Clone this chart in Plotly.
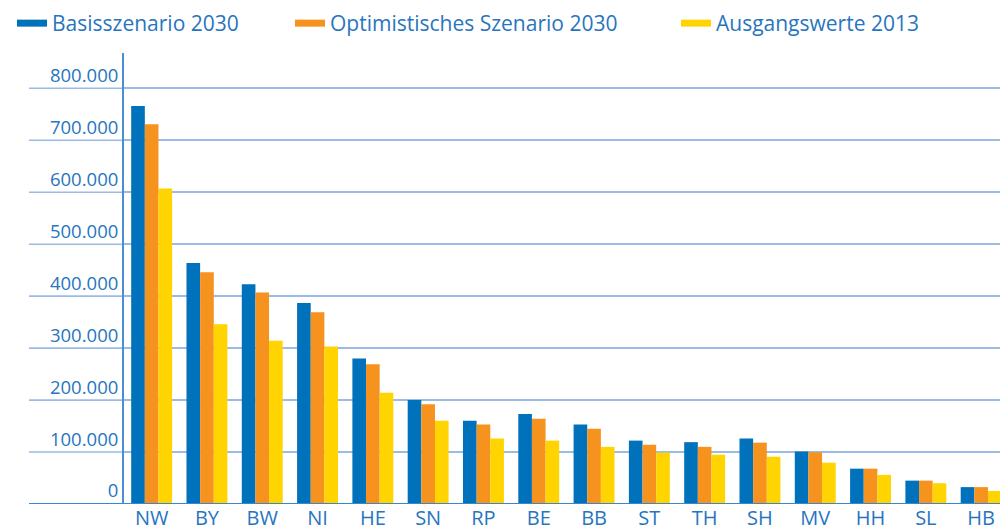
import plotly.graph_objects as go

categories = ["NW", "BY", "BW", "NI", "HE", "SN", "RP", "BE", "BB", "ST", "TH", "SH", "MV", "HH", "SL", "HB"]
basis_2030 = [766000, 464000, 423000, 387000, 280000, 200000, 160000, 173000, 153000, 122000, 119000, 126000, 101000, 68000, 45000, 32500]
optim_2030 = [731000, 446000, 407000, 369000, 269000, 192000, 153000, 164000, 145000, 114000, 110000, 118000, 99500, 68000, 45000, 32500]
ausgang_2013 = [607000, 346000, 314000, 303000, 214000, 160000, 126000, 122000, 110000, 99000, 95000, 91000, 79500, 56000, 40000, 25000]
series_names = ["Basisszenario 2030", "Optimistisches Szenario 2030", "Ausgangswerte 2013"]
series_colors = ["#0071bb", "#f6921e", "#ffd400"]
y_ticks = [0, 100000, 200000, 300000, 400000, 500000, 600000, 700000, 800000]
y_tick_labels = ["0", "100.000", "200.000", "300.000", "400.000", "500.000", "600.000", "700.000", "800.000"]

text_color = "#2775c0"
grid_color = "#9bbbe4"
font_family = "Open Sans, Noto Sans, sans-serif"

W, H = 1000, 530
ml, mr, mt, mb = 124, 0, 53, 26
plot_w = W - ml - mr
plot_h = H - mt - mb
ymax = 800000 * plot_h / 415.7
n_vis = plot_w / 55.3

legend_ids = ["legend", "legend2", "legend3"]
legend_px = [12, 290, 676]

fig = go.Figure()
for name, vals, col in zip(series_names, [basis_2030, optim_2030, ausgang_2013], series_colors):
    fig.add_trace(go.Bar(x=categories, y=vals, name=name, marker=dict(color=col, line=dict(width=0)),
                         showlegend=False, legendgroup=name))
for name, col, lid in zip(series_names, series_colors, legend_ids):
    fig.add_trace(go.Scatter(x=[None], y=[None], mode="lines", name=name, legendgroup=name,
                             line=dict(color=col, width=7), showlegend=True, legend=lid))

shapes = []
left_ext = (29 - ml) / plot_w
for t in y_ticks:
    if t == 0:
        continue
    shapes.append(dict(type="line", xref="paper", yref="y", x0=left_ext, x1=0, y0=t, y1=t,
                       line=dict(color=grid_color, width=1.6), layer="below"))
shapes.append(dict(type="line", xref="paper", yref="y", x0=left_ext, x1=1, y0=0, y1=0,
                   line=dict(color="#3a86cf", width=2.2), layer="above"))

legend_common = dict(orientation="h", xref="container", yref="container", y=1 - 3 / H,
                     xanchor="left", yanchor="top", font=dict(size=21, color=text_color),
                     bgcolor="rgba(0,0,0,0)")
legends = {}
for lid, px in zip(legend_ids, legend_px):
    legends[lid] = dict(legend_common, x=px / W)

fig.update_layout(
    template="none",
    width=W, height=H,
    margin=dict(l=ml, r=mr, t=mt, b=mb, autoexpand=False),
    paper_bgcolor="white", plot_bgcolor="white",
    font=dict(family=font_family, size=18, color=text_color),
    barmode="group", bargap=0.26, bargroupgap=0,
    shapes=shapes,
    xaxis=dict(range=[-0.5, -0.5 + n_vis], showgrid=False, showline=False, zeroline=False,
               ticks="", tickfont=dict(size=20, color=text_color), automargin=False, fixedrange=True),
    yaxis=dict(range=[0, ymax], tickvals=y_ticks, ticktext=y_tick_labels, showgrid=True,
               gridcolor=grid_color, gridwidth=1.6, zeroline=False, showline=True,
               linecolor="#4a8fd4", linewidth=2, ticks="", ticklabelshift=-13, ticklabelstandoff=0,
               tickfont=dict(size=18.5, color=text_color), automargin=False, fixedrange=True),
    **legends,
)

fig.write_html("out.html", config={"displayModeBar": False},
               post_script="document.body.style.margin='0';document.body.style.overflow='hidden';")
